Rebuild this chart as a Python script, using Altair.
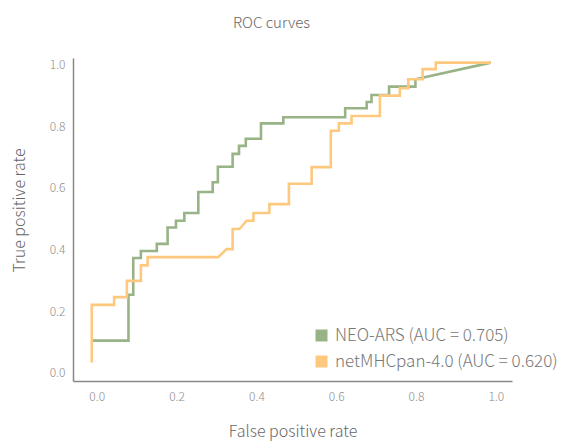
import altair as alt
import pandas as pd

FONT = "Noto Sans CJK KR"

series_names = ["NEO-ARS (AUC = 0.705)", "netMHCpan-4.0 (AUC = 0.620)"]
series_colors = ["#98b386", "#fec97f"]

neo_fpr = [0.0, 0.092, 0.092, 0.104, 0.104, 0.123, 0.123, 0.163, 0.163, 0.19, 0.19,
           0.211, 0.211, 0.232, 0.232, 0.267, 0.267, 0.303, 0.303, 0.316, 0.316,
           0.353, 0.353, 0.369, 0.369, 0.386, 0.386, 0.424, 0.424, 0.480, 0.480,
           0.635, 0.635, 0.689, 0.689, 0.701, 0.701, 0.745, 0.745, 0.811, 0.811, 1.0]
neo_tpr = [0.098, 0.098, 0.247, 0.247, 0.366, 0.366, 0.389, 0.389, 0.412, 0.412, 0.465,
           0.465, 0.487, 0.487, 0.512, 0.512, 0.580, 0.580, 0.612, 0.612, 0.662,
           0.662, 0.704, 0.704, 0.730, 0.730, 0.753, 0.753, 0.803, 0.803, 0.823,
           0.823, 0.852, 0.852, 0.872, 0.872, 0.895, 0.895, 0.922, 0.922, 0.946, 1.0]

net_fpr = [0.0, 0.0, 0.056, 0.056, 0.088, 0.088, 0.123, 0.123, 0.140, 0.140, 0.317,
           0.338, 0.353, 0.353, 0.370, 0.388, 0.405, 0.405, 0.445, 0.445, 0.494,
           0.494, 0.551, 0.551, 0.599, 0.599, 0.619, 0.619, 0.651, 0.651, 0.722,
           0.722, 0.772, 0.772, 0.793, 0.793, 0.829, 0.829, 0.862, 0.862, 1.0]
net_tpr = [0.027, 0.214, 0.214, 0.239, 0.239, 0.292, 0.292, 0.342, 0.342, 0.369, 0.369,
           0.395, 0.395, 0.460, 0.460, 0.487, 0.487, 0.512, 0.512, 0.541, 0.541,
           0.607, 0.607, 0.661, 0.661, 0.779, 0.779, 0.803, 0.803, 0.827, 0.827,
           0.893, 0.893, 0.917, 0.917, 0.946, 0.946, 0.979, 0.979, 1.0, 1.0]

x_ticks = [0.0, 0.2, 0.4, 0.6, 0.8, 1.0]
y_ticks = [0.0, 0.2, 0.4, 0.6, 0.8, 1.0]

rows = []
for name, fx, ty in [(series_names[0], neo_fpr, neo_tpr), (series_names[1], net_fpr, net_tpr)]:
    for i, (a, b) in enumerate(zip(fx, ty)):
        rows.append({"model": name, "fpr": a, "tpr": b, "idx": i})
df = pd.DataFrame(rows)

chart = alt.Chart(df).mark_line(strokeWidth=2.6, interpolate="linear").encode(
    x=alt.X("fpr:Q", scale=alt.Scale(domain=[-0.047, 1.053], nice=False, zero=False),
            axis=alt.Axis(title="False positive rate", values=x_ticks, format=".1f",
                          grid=False, ticks=False, labelPadding=10, labelOffset=5,
                          titlePadding=21)),
    y=alt.Y("tpr:Q", scale=alt.Scale(domain=[-0.033, 1.015], nice=False, zero=False),
            axis=alt.Axis(title="True positive rate", values=y_ticks, format=".1f",
                          grid=False, ticks=False, labelPadding=8, labelOffset=2,
                          titlePadding=22, titleY=152)),
    color=alt.Color("model:N",
                    scale=alt.Scale(domain=series_names, range=series_colors),
                    legend=alt.Legend(title=None, orient="none", legendX=240, legendY=269,
                                      symbolType="square", symbolSize=36,
                                      symbolStrokeWidth=6, labelFontSize=17,
                                      labelColor="#777777", labelFont=FONT,
                                      labelFontWeight=300,
                                      labelOffset=5, rowPadding=-5, labelLimit=400,
                                      padding=0)),
    detail="model:N",
    order="idx:Q",
).properties(
    width=439, height=323,
    title=alt.TitleParams("ROC curves", fontSize=15, font=FONT, color="#666666",
                          fontWeight=300, dx=-21, offset=26),
    autosize=alt.AutoSizeParams(type="none"),
    padding={"left": 73, "top": 58, "right": 54, "bottom": 60},
).configure_view(
    stroke=None
).configure_axis(
    domainColor="#888888", domainWidth=1.5,
    labelFont=FONT, labelFontSize=12, labelColor="#8c8c8c", labelFontWeight=300,
    titleFont=FONT, titleFontSize=16, titleColor="#666666", titleFontWeight=300,
)

chart.save("out.html", embed_options={"renderer": "svg", "actions": False})
